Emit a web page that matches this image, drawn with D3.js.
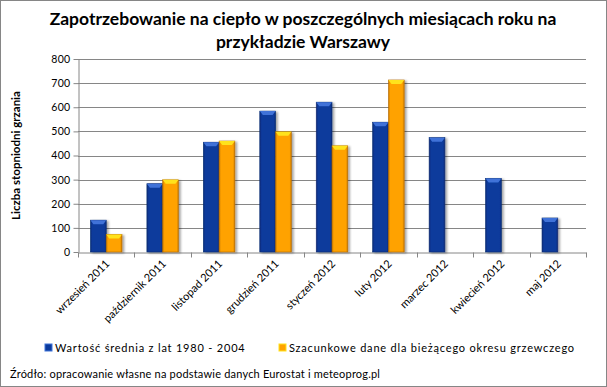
<!DOCTYPE html>
<html>
<head>
<meta charset="utf-8">
<script src="https://cdn.jsdelivr.net/npm/d3@7"></script>
<style>
  body { margin: 0; background: #fff; }
  text { font-family: Lato, "Noto Sans", sans-serif; fill: #000; }
</style>
</head>
<body>
<div id="chart"></div>
<script>
const months = ["wrzesień 2011", "październik 2011", "listopad 2011", "grudzień 2011",
  "styczeń 2012", "luty 2012", "marzec 2012", "kwiecień 2012", "maj 2012"];
const seriesNames = ["Wartość średnia z lat 1980 -  2004", "Szacunkowe dane dla bieżącego okresu grzewczego"];
const avgValues = [132, 283, 455, 584, 621, 538, 474, 305, 141];
const estValues = [73, 299, 460, 498, 440, 713, null, null, null];
const yTicks = [0, 100, 200, 300, 400, 500, 600, 700, 800];

const W = 607, H = 387;
let margin = { top: 59, right: 21, bottom: 135, left: 78 },
    width = W - margin.left - margin.right,
    height = H - margin.top - margin.bottom;

let root = d3.select("#chart").append("svg")
    .attr("width", W)
    .attr("height", H);

// gradients + shadow
let defs = root.append("defs");
function bevelGrad(id, edge, mid) {
  let g = defs.append("linearGradient").attr("id", id)
      .attr("x1", "0").attr("x2", "1").attr("y1", "0").attr("y2", "0");
  g.append("stop").attr("offset", "0").attr("stop-color", edge);
  g.append("stop").attr("offset", "0.12").attr("stop-color", mid);
  g.append("stop").attr("offset", "0.88").attr("stop-color", mid);
  g.append("stop").attr("offset", "1").attr("stop-color", edge);
}
bevelGrad("gBlue", "#0a2c78", "#0a3a9c");
bevelGrad("gOrange", "#c97a00", "#ffa200");
let sh = defs.append("filter").attr("id", "shadow")
    .attr("x", "-20%").attr("y", "-10%").attr("width", "160%").attr("height", "130%");
sh.append("feDropShadow").attr("dx", 2).attr("dy", 1).attr("stdDeviation", 1.3)
    .attr("flood-color", "#000").attr("flood-opacity", 0.35);

// outer border
root.append("rect")
    .attr("x", 0.5).attr("y", 0.5)
    .attr("width", W - 1).attr("height", H - 1)
    .attr("fill", "#fff").attr("stroke", "#868686");

// title
root.append("text")
    .attr("x", 303).attr("y", 25)
    .attr("text-anchor", "middle")
    .style("font-size", "17.5px").style("font-weight", "bold")
    .text("Zapotrzebowanie na ciepło w poszczególnych miesiącach roku na");
root.append("text")
    .attr("x", 303).attr("y", 48)
    .attr("text-anchor", "middle")
    .style("font-size", "17.5px").style("font-weight", "bold")
    .text("przykładzie Warszawy");

let svg = root.append("g")
    .attr("transform", "translate(" + margin.left + "," + margin.top + ")");

let x0 = d3.scaleBand().domain(months).range([0, width]).padding(0);
let x1 = d3.scaleBand().domain([0, 1]).range([0, x0.bandwidth()]).paddingInner(0).paddingOuter(0.79);
let y = d3.scaleLinear().domain([0, 800]).range([height, 0]);

// gridlines
svg.append("g").selectAll("line")
    .data(yTicks.filter(d => d > 0))
    .enter().append("line")
    .attr("x1", 0).attr("x2", width)
    .attr("y1", d => Math.round(y(d)) + 0.5).attr("y2", d => Math.round(y(d)) + 0.5)
    .attr("stroke", "#868686");

// y axis
let yAxis = svg.append("g")
    .attr("transform", "translate(0.5,0)")
    .call(d3.axisLeft(y).tickValues(yTicks).tickSize(5).tickSizeOuter(0));
yAxis.select(".domain").attr("stroke", "#868686");
yAxis.selectAll(".tick line").attr("stroke", "#868686");
yAxis.selectAll(".tick text")
    .attr("x", -8)
    .style("font-family", "Lato, sans-serif").style("font-size", "10.5px")
    .style("letter-spacing", "0.3px");

// x axis
let xAxis = svg.append("g")
    .attr("transform", "translate(0," + (Math.round(height) + 0.5) + ")")
    .call(d3.axisBottom(x0).tickSize(0).tickSizeOuter(0));
xAxis.select(".domain").attr("stroke", "#868686");
xAxis.selectAll(".tick text")
    .attr("text-anchor", "end")
    .attr("dy", 0)
    .attr("y", 0)
    .attr("transform", "translate(4,12) rotate(-45)")
    .style("font-family", "Lato, sans-serif").style("font-size", "11px");
xAxis.append("g").selectAll("line")
    .data(d3.range(months.length + 1))
    .enter().append("line")
    .attr("x1", i => Math.round(i * x0.step()) + 0.5)
    .attr("x2", i => Math.round(i * x0.step()) + 0.5)
    .attr("y1", 0).attr("y2", 5)
    .attr("stroke", "#868686");

// bars
let series = [
  { values: avgValues, fill: "url(#gBlue)", cap: "#3f72d8", stroke: "#082a70" },
  { values: estValues, fill: "url(#gOrange)", cap: "#ffe21a", stroke: "#b36b00" }
];
series.forEach(function(s, si) {
  let g = svg.append("g").attr("filter", "url(#shadow)");
  let data = months.map((m, i) => ({ m: m, v: s.values[i] })).filter(d => d.v != null);
  let bw = x1.bandwidth();
  g.selectAll("rect")
    .data(data)
    .enter().append("rect")
    .attr("x", d => x0(d.m) + x1(si))
    .attr("y", d => y(d.v))
    .attr("width", bw)
    .attr("height", d => height - y(d.v))
    .attr("fill", s.fill)
    .attr("stroke", s.stroke).attr("stroke-width", 0.6);
  // top bevel
  g.selectAll("path")
    .data(data)
    .enter().append("path")
    .attr("d", function(d) {
      let xl = x0(d.m) + x1(si), yt = y(d.v);
      return "M" + xl + "," + yt + "L" + (xl + bw) + "," + yt +
             "L" + (xl + bw - 3) + "," + (yt + 4) + "L" + (xl + 3) + "," + (yt + 4) + "Z";
    })
    .attr("fill", s.cap);
});

// y axis title
root.append("text")
    .attr("transform", "translate(20," + (margin.top + height / 2) + ") rotate(-90)")
    .attr("text-anchor", "middle")
    .style("font-size", "11.5px").style("font-weight", "bold")
    .text("Liczba stopniodni grzania");

// legend
let legendX = [45, 279];
let legendCol = [["#0a3a9c", "#3f72d8"], ["#ffa200", "#ffe21a"]];
seriesNames.forEach(function(name, i) {
  root.append("rect")
    .attr("x", legendX[i]).attr("y", 344)
    .attr("width", 7).attr("height", 7)
    .attr("fill", legendCol[i][0]).attr("stroke", legendCol[i][1]).attr("stroke-width", 1);
  root.append("text")
    .attr("x", legendX[i] + 10).attr("y", 352)
    .style("font-size", "11px")
    .style("letter-spacing", "0.8px")
    .text(name);
});

// source
root.append("text")
  .attr("x", 10).attr("y", 378)
  .style("font-size", "11px")
  .style("letter-spacing", "0.2px")
  .text("Źródło: opracowanie własne na podstawie danych Eurostat i meteoprog.pl");
</script>
</body>
</html>
